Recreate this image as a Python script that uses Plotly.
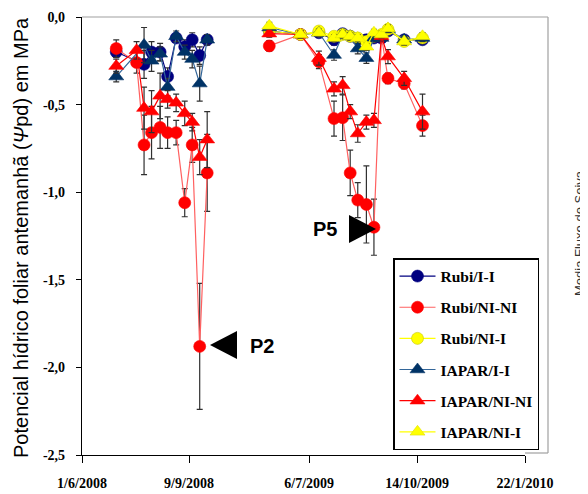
import plotly.graph_objects as go

# ---------------- data ----------------
dates_2008 = ["2008-07-03", "2008-07-22", "2008-07-29", "2008-08-05", "2008-08-13", "2008-08-20",
              "2008-08-28", "2008-09-05", "2008-09-12", "2008-09-19", "2008-09-26"]
dates_2009 = ["2009-05-30", "2009-06-28", "2009-07-15", "2009-07-29", "2009-08-06", "2009-08-13",
              "2009-08-20", "2009-08-28", "2009-09-04", "2009-09-11", "2009-09-17", "2009-10-02",
              "2009-10-19"]

series_names = ["Rubi/I-I", "Rubi/NI-NI", "Rubi/NI-I", "IAPAR/I-I", "IAPAR/NI-NI", "IAPAR/NI-I"]

# 2008 values (MPa)
rubi_ii_2008 = [-0.20, None, -0.27, -0.20, -0.20, -0.34, -0.12, -0.17, -0.13, -0.22, -0.13]
rubi_nini_2008 = [-0.18, -0.26, -0.73, -0.66, -0.63, -0.66, -0.66, -1.06, -0.73, -1.88, -0.89]
iapar_ii_2008 = [-0.34, None, -0.16, -0.25, -0.21, -0.40, -0.11, -0.20, -0.24, -0.38, -0.13]
iapar_nini_2008 = [-0.28, -0.19, -0.52, -0.54, -0.45, -0.47, -0.49, -0.55, -0.60, -0.80, -0.70]

rubi_ii_2008_err = [0.03, None, 0.08, 0.06, 0.05, 0.05, 0.02, 0.04, 0.04, 0.05, 0.02]
rubi_nini_2008_err = [0.05, 0.06, 0.17, 0.15, 0.12, 0.09, 0.07, 0.08, 0.10, 0.36, 0.22]
iapar_ii_2008_err = [0.03, None, 0.10, 0.06, 0.04, 0.05, 0.03, 0.04, 0.05, 0.10, 0.03]
iapar_nini_2008_err = [0.04, 0.05, 0.12, 0.12, 0.13, 0.05, 0.05, 0.07, 0.05, 0.10, 0.16]

# 2009 values (MPa)
rubi_ii_2009 = [-0.08, -0.10, -0.09, -0.13, -0.095, -0.11, -0.125, -0.13, -0.12, -0.12, -0.08, -0.13, -0.13]
rubi_nini_2009 = [-0.165, -0.10, -0.255, -0.58, -0.575, -0.89, -1.045, -1.07, -1.20, -0.11, -0.35, -0.38, -0.62]
rubi_nii_2009 = [-0.08, -0.10, -0.08, -0.11, -0.10, -0.11, -0.12, -0.14, -0.11, -0.10, -0.07, -0.14, -0.12]
iapar_ii_2009 = [-0.06, -0.10, -0.09, -0.217, -0.10, -0.11, -0.18, -0.235, -0.12, -0.12, -0.07, -0.13, -0.12]
iapar_nini_2009 = [-0.095, -0.10, -0.235, -0.41, -0.39, -0.54, -0.665, -0.60, -0.59, -0.11, -0.226, -0.35, -0.54]
iapar_nii_2009 = [-0.05, -0.10, -0.09, -0.12, -0.10, -0.11, -0.12, -0.17, -0.09, -0.10, -0.065, -0.14, -0.11]

rubi_ii_2009_err = [0.02, 0.02, 0.02, 0.03, 0.02, 0.02, 0.03, 0.03, 0.02, 0.02, 0.02, 0.02, 0.02]
rubi_nini_2009_err = [0.03, 0.02, 0.04, 0.10, 0.13, 0.13, 0.10, 0.22, 0.16, 0.02, 0.03, 0.03, 0.06]
rubi_nii_2009_err = [0.02, 0.02, 0.02, 0.02, 0.02, 0.02, 0.02, 0.02, 0.02, 0.02, 0.02, 0.02, 0.02]
iapar_ii_2009_err = [0.02, 0.02, 0.02, 0.03, 0.02, 0.02, 0.03, 0.03, 0.02, 0.02, 0.02, 0.02, 0.02]
iapar_nini_2009_err = [0.02, 0.02, 0.04, 0.04, 0.05, 0.04, 0.05, 0.04, 0.04, 0.02, 0.04, 0.04, 0.10]
iapar_nii_2009_err = [0.02, 0.02, 0.02, 0.02, 0.02, 0.02, 0.02, 0.02, 0.02, 0.02, 0.02, 0.02, 0.02]

y_tickvals = [0.0, -0.5, -1.0, -1.5, -2.0, -2.5]
y_ticktext = ["0,0", "-0,5", "-1,0", "-1,5", "-2,0", "-2,5"]
x1_tickvals = ["2008-06-01", "2008-09-09"]
x1_ticktext = ["1/6/2008", "9/9/2008"]
x2_tickvals = ["2009-07-06", "2009-10-14", "2010-01-22"]
x2_ticktext = ["6/7/2009", "14/10/2009", "22/1/2010"]

# ---------------- layout geometry ----------------
W, H = 588, 494
OFF = 8                      # page body margin of the browser
PL, PR, PT, PB = 82, 525, 17, 455   # plot area in page pixels


def px(x):
    return (x - PL) / (PR - PL)


def py(y):
    return (PB - y) / (PB - PT)


styles = {
    "Rubi/I-I": dict(symbol="circle", size=12, color="#000080", line="#000080", mline="#000080"),
    "Rubi/NI-NI": dict(symbol="circle", size=12, color="#FF0000", line="#FF6060", mline="#FF0000"),
    "Rubi/NI-I": dict(symbol="circle", size=12, color="#FFFF00", line="#FFFF00", mline="#C8C800"),
    "IAPAR/I-I": dict(symbol="triangle-up", size=13, color="#003366", line="#336699", mline="#003366"),
    "IAPAR/NI-NI": dict(symbol="triangle-up", size=13, color="#FF0000", line="#FF0000", mline="#FF0000"),
    "IAPAR/NI-I": dict(symbol="triangle-up", size=13, color="#FFFF00", line="#FFFF00", mline="#E0E000"),
}

data_2008 = {
    "Rubi/I-I": (rubi_ii_2008, rubi_ii_2008_err),
    "Rubi/NI-NI": (rubi_nini_2008, rubi_nini_2008_err),
    "IAPAR/I-I": (iapar_ii_2008, iapar_ii_2008_err),
    "IAPAR/NI-NI": (iapar_nini_2008, iapar_nini_2008_err),
}
data_2009 = {
    "Rubi/I-I": (rubi_ii_2009, rubi_ii_2009_err),
    "Rubi/NI-NI": (rubi_nini_2009, rubi_nini_2009_err),
    "Rubi/NI-I": (rubi_nii_2009, rubi_nii_2009_err),
    "IAPAR/I-I": (iapar_ii_2009, iapar_ii_2009_err),
    "IAPAR/NI-NI": (iapar_nini_2009, iapar_nini_2009_err),
    "IAPAR/NI-I": (iapar_nii_2009, iapar_nii_2009_err),
}

fig = go.Figure()

for name in series_names:
    st = styles[name]
    first = True
    for dates, data, xa in ((dates_2008, data_2008, "x"), (dates_2009, data_2009, "x2")):
        if name not in data:
            continue
        vals, errs = data[name]
        fig.add_trace(go.Scatter(
            x=dates, y=vals, xaxis=xa, yaxis="y",
            name=name, legendgroup=name, showlegend=first,
            mode="lines+markers", connectgaps=True,
            line=dict(color=st["line"], width=1.2),
            marker=dict(symbol=st["symbol"], size=st["size"], color=st["color"],
                        line=dict(color=st["mline"], width=0.6)),
            error_y=dict(type="data", array=errs, visible=True, color="#303030",
                         thickness=1.2, width=3),
        ))
        first = False

font_tick = dict(family="Liberation Serif", size=14, color="black", weight="bold")

fig.update_layout(
    width=W, height=H,
    margin=dict(l=PL - OFF, r=W - (PR - OFF), t=PT - OFF, b=H - (PB - OFF), autoexpand=False),
    paper_bgcolor="white", plot_bgcolor="white",
    showlegend=True,
    legend=dict(
        x=px(393), y=py(258), xanchor="left", yanchor="top",
        bgcolor="white", bordercolor="black", borderwidth=1.5,
        font=dict(family="Liberation Serif", size=15.5, color="black", weight="bold"),
        tracegroupgap=8, itemwidth=36, traceorder="grouped",
    ),
    xaxis=dict(
        type="date", domain=[0, px(245)],
        range=["2008-06-01", "2008-10-31 08:00"],
        tickvals=x1_tickvals, ticktext=x1_ticktext,
        showgrid=False, zeroline=False, showline=True, linecolor="black", linewidth=1.2,
        ticks="outside", ticklen=7, tickcolor="black", tickfont=font_tick,
        ticklabelstandoff=8,
    ),
    xaxis2=dict(
        type="date", domain=[px(245), 1], anchor="y",
        range=["2009-05-07 12:00", "2010-01-22"],
        tickvals=x2_tickvals, ticktext=x2_ticktext,
        showgrid=False, zeroline=False, showline=True, linecolor="black", linewidth=1.2,
        ticks="outside", ticklen=7, tickcolor="black", tickfont=font_tick,
        ticklabelstandoff=8,
    ),
    yaxis=dict(
        range=[-2.5, 0.0], tickvals=y_tickvals, ticktext=y_ticktext,
        showgrid=False, zeroline=False, showline=True, linecolor="black", linewidth=1.2,
        ticks="outside", ticklen=5, tickcolor="black", tickfont=font_tick,
        ticklabelstandoff=8,
    ),
    annotations=[
        dict(text="Potencial hídrico foliar antemanhã (<i>Ψ</i>pd) em MPa", textangle=-90,
             xref="paper", yref="paper", x=px(21), y=py(238), xanchor="center", yanchor="middle",
             showarrow=False, font=dict(family="Liberation Sans", size=20, color="black")),
        dict(text="Media Fluxo de Seiva", textangle=-90,
             xref="paper", yref="paper", x=px(579), y=py(233), xanchor="center", yanchor="middle",
             showarrow=False, font=dict(family="Liberation Sans", size=13, color="#333333")),
        dict(text="<b>P2</b>", xref="paper", yref="paper", x=px(262), y=py(346),
             xanchor="center", yanchor="middle",
             showarrow=False, font=dict(family="Liberation Sans", size=20, color="black")),
        dict(text="<b>P5</b>", xref="paper", yref="paper", x=px(325), y=py(229),
             xanchor="center", yanchor="middle",
             showarrow=False, font=dict(family="Liberation Sans", size=20, color="black")),
    ],
    shapes=[
        # frame lines (top and right, grey)
        dict(type="line", xref="paper", yref="paper", x0=0, x1=px(548), y0=1, y1=1,
             line=dict(color="#A0A0A0", width=1.2)),
        dict(type="line", xref="paper", yref="paper", x0=px(548), x1=px(548), y0=py(17), y1=py(453),
             line=dict(color="#A0A0A0", width=1.2)),
        dict(type="line", xref="paper", yref="paper", x0=1, x1=px(548), y0=py(453), y1=py(453),
             line=dict(color="#A0A0A0", width=1.2)),
        # P2 arrow (pointing left)
        dict(type="path", xref="paper", yref="paper",
             path=f"M {px(210)} {py(345)} L {px(237)} {py(331)} L {px(237)} {py(359)} Z",
             fillcolor="black", line=dict(color="black", width=0)),
        # P5 arrow (pointing right)
        dict(type="path", xref="paper", yref="paper",
             path=f"M {px(376)} {py(229)} L {px(349)} {py(215)} L {px(349)} {py(243)} Z",
             fillcolor="black", line=dict(color="black", width=0)),
    ],
)

fig.write_html("out.html")
